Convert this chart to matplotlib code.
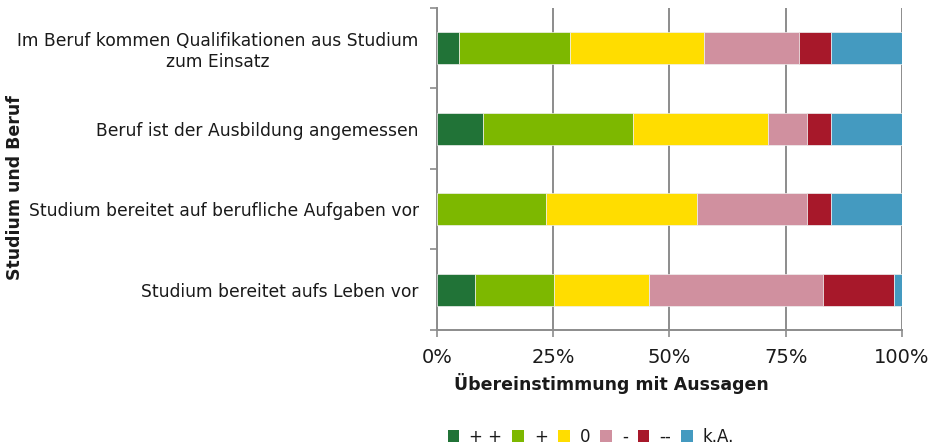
import matplotlib
matplotlib.use("Agg")
import matplotlib.pyplot as plt
import numpy as np
from matplotlib.patches import Patch

categories = [
    "Im Beruf kommen Qualifikationen aus Studium\nzum Einsatz",
    "Beruf ist der Ausbildung angemessen",
    "Studium bereitet auf berufliche Aufgaben vor",
    "Studium bereitet aufs Leben vor",
]
series_names = ["+ +", "+", "0", "-", "--", "k.A."]
pp = [4.9, 10.0, 0.0, 8.2]
p = [23.7, 32.2, 23.5, 17.0]
zero = [28.8, 29.0, 32.4, 20.4]
m = [20.5, 8.4, 23.7, 37.5]
mm = [6.8, 5.1, 5.1, 15.2]
ka = [15.3, 15.3, 15.3, 1.7]
series_values = [pp, p, zero, m, mm, ka]
colors = ["#217337", "#7db800", "#ffdd00", "#d0909f", "#a7182a", "#449ac0"]
xticks = [0, 25, 50, 75, 100]
xticklabels = ["0%", "25%", "50%", "75%", "100%"]

plt.rcParams['font.family'] = ['DejaVu Sans']
txt = "#1a1a1a"
grid = "#8c8c8c"

fig = plt.figure(figsize=(9.31, 4.48), dpi=100)
ax = fig.add_axes([436.7/931, 1-330/448, (902-436.7)/931, (330-8)/448])

y = np.arange(len(categories))
left = np.zeros(len(categories))
for name, vals, c in zip(series_names, series_values, colors):
    vals = np.array(vals)
    ax.barh(y, vals, left=left, height=0.4, color=c, edgecolor="#f0f0f0",
            linewidth=0.5, label=name, zorder=3)
    left += vals

ax.set_xlim(0, 100)
ax.set_ylim(len(categories) - 0.5, -0.5)
ax.set_xticks(xticks)
ax.set_xticklabels(xticklabels, fontsize=14, color=txt)
ax.set_yticks(y)
ax.set_yticklabels(categories, fontsize=12.3, color=txt, multialignment='center')
ax.set_yticks(np.arange(-0.5, len(categories)), minor=True)
ax.tick_params(axis='y', which='major', length=0, pad=13)
ax.tick_params(axis='y', which='minor', length=5, width=1.2, color=grid)
ax.tick_params(axis='x', which='major', length=5, width=1.2, color=grid, pad=8)
ax.grid(axis='x', color=grid, linewidth=1.4, zorder=0)
for s in ['top', 'right']:
    ax.spines[s].set_visible(False)
for s in ['left', 'bottom']:
    ax.spines[s].set_color(grid)
    ax.spines[s].set_linewidth(1.4)

ax.set_xlabel("Übereinstimmung mit Aussagen", fontsize=12.5, fontweight='bold', color=txt)
ax.xaxis.set_label_coords((611-436.7)/465.3, -(383-330)/322, transform=ax.transAxes)
ax.xaxis.label.set_va('center')
fig.text(15/931, 1-188/448, "Studium und Beruf", rotation=90, fontsize=12.5,
         fontweight='bold', color=txt, ha='center', va='center')

handles = [Patch(facecolor=c, edgecolor='none') for c in colors]
fig.legend(handles, series_names, loc='center', bbox_to_anchor=(591/931, 1-437/448),
           ncol=6, frameon=False, fontsize=12, handlelength=0.7, handleheight=0.7,
           handletextpad=0.6, columnspacing=0.6, labelcolor=txt)

fig.savefig("out.png", dpi=100)
